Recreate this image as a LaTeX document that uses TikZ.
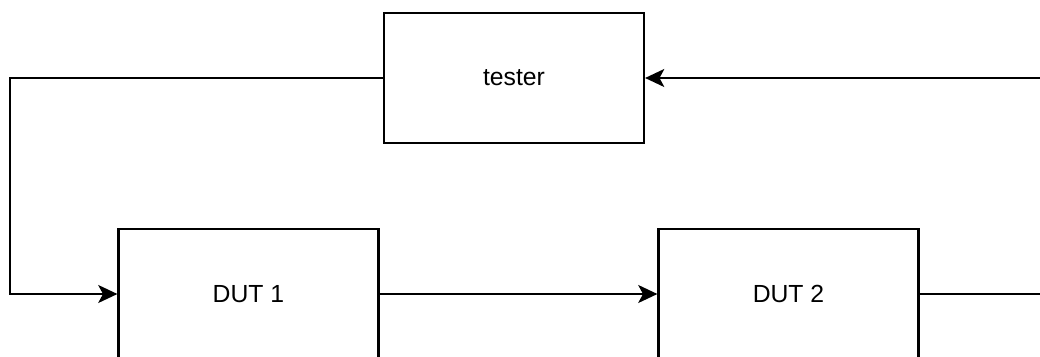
\documentclass[tikz,border=0pt]{standalone}
\usepackage{fontspec}
\setmainfont{Liberation Sans}
\usetikzlibrary{arrows.meta}
\begin{document}
\begin{tikzpicture}[x=0.025cm, y=-0.025cm,
	block/.style={draw, line width=1.5pt, minimum width=6.5cm, minimum height=3.25cm, inner sep=0pt, font=\fontsize{17.6}{20}\selectfont},
	wire/.style={line width=1.5pt},
	arr/.style={wire, -{Stealth[length=0.48cm, width=0.45cm, inset=0.12cm]}}]
	\useasboundingbox (0,0) rectangle (1040,356);
	\clip (0,0) rectangle (1040,356);
	\node [block] (tester) at (514,78) {tester};
	\node [block] (dut1) at (248.5,294) {DUT 1};
	\node [block] (dut2) at (788.5,294) {DUT 2};
	% anello di ritorno
	\coordinate (lt) at (10,78);
	\coordinate (lb) at (10,294);
	\coordinate (rb) at (1060,294);
	\coordinate (rt) at (1060,78);
	\draw [arr] (tester.west) -- (lt) -- (lb) -- (dut1.west);
	\draw [arr] (dut1.east) -- (dut2.west);
	\draw [arr] (dut2.east) -- (rb) -- (rt) -- (tester.east);
\end{tikzpicture}
\end{document}
